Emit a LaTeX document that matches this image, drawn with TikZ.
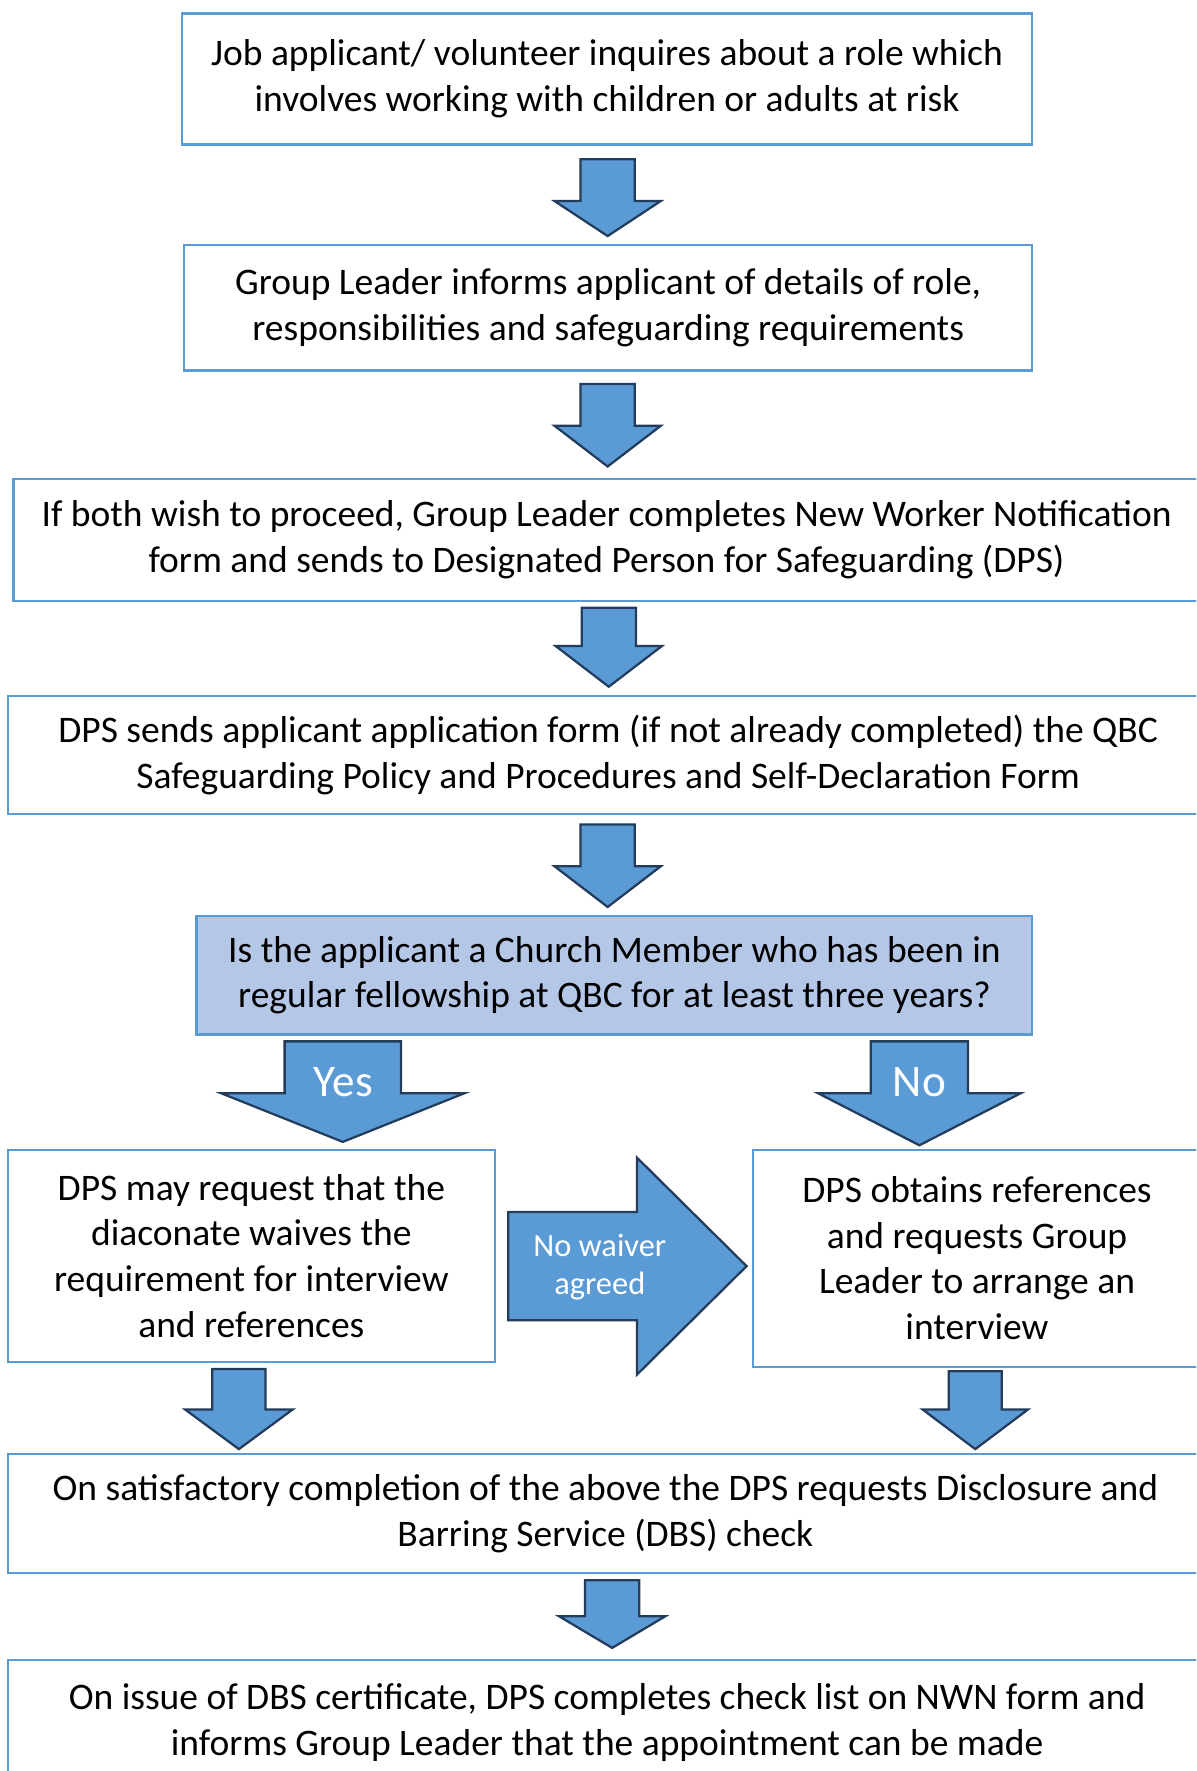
\documentclass[tikz,border=0pt]{standalone}
\usepackage{fontspec}
\setmainfont{Carlito}
\definecolor{boxblue}{HTML}{5B9BD5}
\definecolor{arrfill}{HTML}{5B9BD5}
\definecolor{arrline}{RGB}{35,60,92}
\definecolor{decfill}{HTML}{B4C7E7}
\tikzset{
  box/.style={draw=boxblue, line width=2pt, fill=white, align=center, inner sep=0pt,
    font=\fontsize{33.2}{40.5}\selectfont, text=black,
    execute at begin node={\rule{0pt}{32pt}}},
  blockarr/.style={draw=arrline, fill=arrfill, line width=2pt, line join=miter},
  arrlabel/.style={text=white, align=center, inner sep=0pt},
}
% cx, ytop, ybase, ytip, shaft half width, head half width
\newcommand\blockdown[6]{%
  \draw[blockarr] ({#1-#5},{-#2}) -- ({#1+#5},{-#2}) -- ({#1+#5},{-#3}) -- ({#1+#6},{-#3})
    -- ({#1},{-#4}) -- ({#1-#6},{-#3}) -- ({#1-#5},{-#3}) -- cycle;}
\begin{document}
\begin{tikzpicture}[x=1pt,y=1pt]
\clip (0,0) rectangle (1059,-1568);
\fill[white] (0,0) rectangle (1059,-1568);

\node[box, minimum width=753pt, minimum height=116pt] (b1) at (537.5,-70)
  {Job applicant/ volunteer inquires about a role which\\involves working with children or adults at risk};
\node[box, minimum width=751pt, minimum height=111pt] (b2) at (538.5,-272.5)
  {Group Leader informs applicant of details of role,\\responsibilities and safeguarding requirements};
\node[box, minimum width=1050pt, minimum height=108pt] (b3) at (537,-478)
  {If both wish to proceed, Group Leader completes New Worker Notification\\form and sends to Designated Person for Safeguarding (DPS)};
\node[box, minimum width=1063pt, minimum height=105pt] (b4) at (538.5,-668.5)
  {DPS sends applicant application form (if not already completed) the QBC\\Safeguarding Policy and Procedures and Self-Declaration Form};
\node[box, fill=decfill, minimum width=740pt, minimum height=105pt] (b5) at (544,-863.5)
  {Is the applicant a Church Member who has been in\\regular fellowship at QBC for at least three years?};
\node[box, minimum width=431pt, minimum height=188pt] (b6) at (222.5,-1112)
  {DPS may request that the\\diaconate waives the\\requirement for interview\\and references};
\node[box, minimum width=396pt, minimum height=192pt] (b7) at (865,-1114)
  {DPS obtains references\\and requests Group\\Leader to arrange an\\interview};
\node[box, minimum width=1058pt, minimum height=106pt] (b8) at (536,-1340)
  {On satisfactory completion of the above the DPS requests Disclosure and\\Barring Service (DBS) check};
\node[box, minimum width=1061pt, minimum height=110pt] (b9) at (537.5,-1525)
  {On issue of DBS certificate, DPS completes check list on NWN form and\\informs Group Leader that the appointment can be made};

% block arrows
\blockdown{538}{141}{178}{209}{24}{47}
\blockdown{538}{340}{377}{413}{24}{47}
\blockdown{539}{538}{572}{608}{24}{47}
\blockdown{538}{730}{767}{803}{24}{47}
\blockdown{303.5}{922}{968}{1011}{51.5}{107.5}
\blockdown{814}{922}{968}{1014}{43}{89.5}
\blockdown{211.5}{1212}{1248}{1283}{23.5}{47.5}
\blockdown{863.5}{1214}{1248}{1283}{23.5}{46.5}
\blockdown{542}{1399}{1431}{1459}{24}{47}
\draw[blockarr] (450,-1073) -- (564,-1073) -- (564,-1025) -- (661,-1121)
  -- (564,-1217) -- (564,-1169) -- (450,-1169) -- cycle;

\node[arrlabel, font=\fontsize{40}{40}\selectfont] (yes) at (304,-958) {Yes};
\node[arrlabel, font=\fontsize{40}{40}\selectfont] (no) at (814,-958) {No};
\node[arrlabel, font=\fontsize{28.7}{34}\selectfont] (nowaiver) at (531,-1122) {No waiver\\agreed};
\end{tikzpicture}
\end{document}
